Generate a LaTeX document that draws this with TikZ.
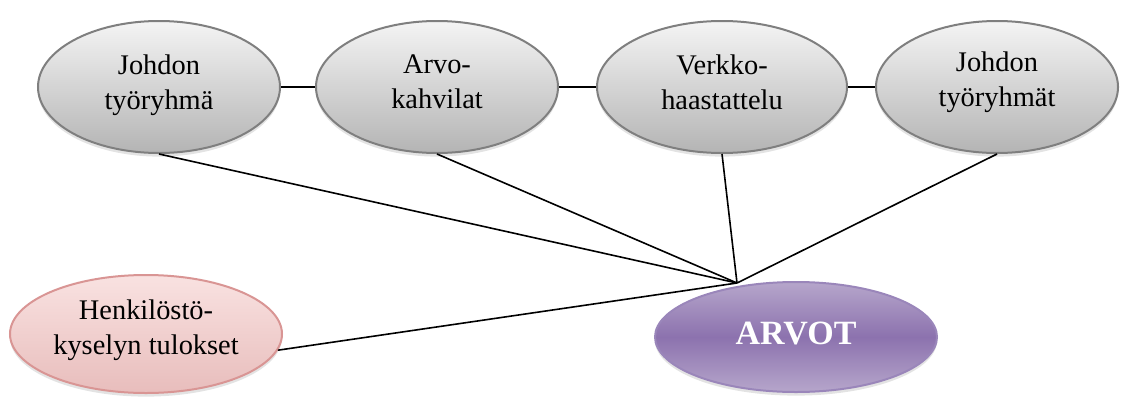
\documentclass[tikz,border=0pt]{standalone}
\usepackage{fontspec}
\setmainfont{Liberation Serif}
\usetikzlibrary{shapes.geometric,shadows}
\definecolor{grayedge}{HTML}{7F7F7F}
\definecolor{graytop}{HTML}{F4F4F4}
\definecolor{graybot}{HTML}{B4B4B4}
\definecolor{pinkedge}{HTML}{D99594}
\definecolor{pinktop}{HTML}{F9E2E1}
\definecolor{pinkbot}{HTML}{E8BDBC}
\definecolor{purpedge}{HTML}{9A86BA}
\definecolor{purptop}{HTML}{B6A6CB}
\definecolor{purpmid}{HTML}{8C72AE}
\tikzset{
  oval/.style={ellipse, inner sep=0pt, line width=1pt,
    drop shadow={opacity=0.22, shadow xshift=0pt, shadow yshift=-1.8pt}},
  grayoval/.style={oval, draw=grayedge, top color=graytop, bottom color=graybot,
    minimum width=121pt, minimum height=66pt},
  pinkoval/.style={oval, draw=pinkedge, top color=pinktop, bottom color=pinkbot,
    minimum width=136pt, minimum height=59pt},
  purpoval/.style={oval, draw=purpedge, top color=purptop, bottom color=purptop,
    middle color=purpmid, minimum width=141pt, minimum height=55pt},
  lbl/.style={align=center, font=\fontsize{14.2}{17.5}\selectfont, inner sep=0pt},
  conn/.style={draw=black, line width=0.8pt}
}
\begin{document}
\begin{tikzpicture}[x=0.5pt,y=-0.5pt]
\useasboundingbox (0,0) rectangle (1122,396);
% top ellipses
\node[grayoval] (e1) at (159,87) {};
\node[grayoval] (e2) at (437,87) {};
\node[grayoval, minimum width=125pt] (e3) at (722,87) {};
\node[grayoval] (e4) at (997,87) {};
\node[pinkoval] (h) at (146,334) {};
\node[purpoval] (a) at (796,337) {};
\coordinate (hub) at (737,283);
% connectors
\draw[conn] (e1.east) -- (e2.west);
\draw[conn] (e2.east) -- (e3.west);
\draw[conn] (e3.east) -- (e4.west);
\draw[conn] (e1.south) -- (hub);
\draw[conn] (e2.south) -- (hub);
\draw[conn] (e3.south) -- (hub);
\draw[conn] (e4.south) -- (hub);
\draw[conn] (h.-7) -- (hub);
% labels
\node[lbl] (t1) at ([yshift=0.8pt]e1.center) {Johdon\\työryhmä};
\node[lbl] (t2) at ([yshift=2.5pt]e2.center) {Arvo-\\kahvilat};
\node[lbl] (t3) at ([yshift=2.5pt]e3.center) {Verkko-\\haastattelu};
\node[lbl] (t4) at ([yshift=2.3pt]e4.center) {Johdon\\työryhmät};
\node[lbl] (th) at ([yshift=2pt]h.center) {Henkilöstö-\\kyselyn tulokset};
\node[inner sep=0pt, text=white, font=\fontsize{17}{20}\selectfont\bfseries] (ta) at ([yshift=2pt]a.center) {ARVOT};
\end{tikzpicture}
\end{document}
